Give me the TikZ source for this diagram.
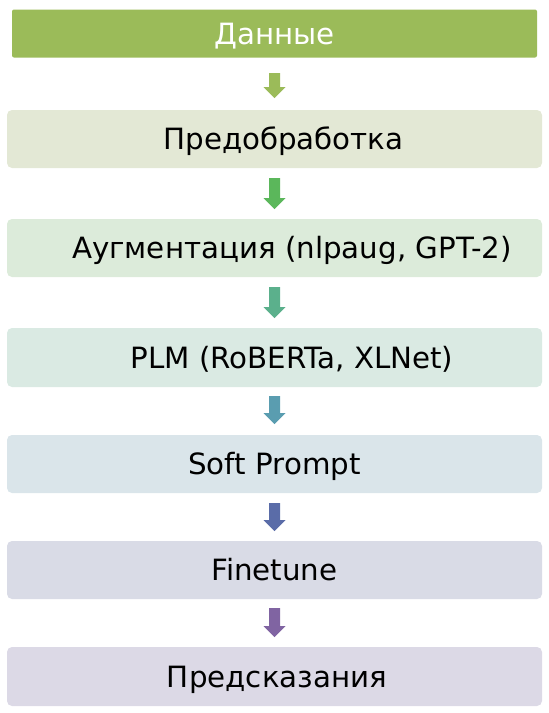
\documentclass[tikz,border=0pt]{standalone}
\usepackage{fontspec}
\setmainfont{DejaVu Sans}
\usetikzlibrary{calc}
\definecolor{c1}{HTML}{9BBB59}
\definecolor{f2}{HTML}{E3E8D5}
\definecolor{f3}{HTML}{DCEBDA}
\definecolor{f4}{HTML}{DAEAE3}
\definecolor{f5}{HTML}{DAE5EA}
\definecolor{f6}{HTML}{D9DBE6}
\definecolor{f7}{HTML}{DCD9E6}
\definecolor{a2}{HTML}{5BB75B}
\definecolor{a3}{HTML}{5BB08C}
\definecolor{a4}{HTML}{5A9DB0}
\definecolor{a5}{HTML}{5A6CA8}
\definecolor{a6}{HTML}{8064A2}
\tikzset{
  box/.style={rectangle, rounded corners=5pt, minimum width=535pt, inner sep=0pt,
    text height=21.4pt, text depth=0pt,
    font=\fontsize{29.3}{33}\selectfont, text=black},
  topbox/.style={rectangle, rounded corners=2pt, minimum width=525pt, minimum height=48pt,
    inner sep=0pt, text height=21.4pt, text depth=0pt,
    fill=c1, text=white, font=\fontsize{29.3}{33}\selectfont},
}
\newcommand{\blockarrow}[4]{% color, x, ytop, ytip
  \fill[#1] (#2-5.5,#3) -- (#2+5.5,#3) -- (#2+5.5,#4-11) -- (#2+11,#4-11) -- (#2,#4) -- (#2-11,#4-11) -- (#2-5.5,#4-11) -- cycle;}
\begin{document}
\begin{tikzpicture}[x=1pt,y=-1pt]
\useasboundingbox (0,0) rectangle (549,713);
\node[topbox] (n1) at (274.5,33.5) {Данные};
\node[box, fill=f2, minimum height=58pt] (n2) at (274.5,139) {\hspace*{18pt}Предобработка};
\node[box, fill=f3, minimum height=58pt] (n3) at (274.5,248) {\hspace*{35pt}Аугментация (nlpaug, GPT-2)};
\node[box, fill=f4, minimum height=59pt] (n4) at (274.5,357.5) {\hspace*{35pt}PLM (RoBERTa, XLNet)};
\node[box, fill=f5, minimum height=58pt] (n5) at (274.5,464) {Soft Prompt};
\node[box, fill=f6, minimum height=58pt] (n6) at (274.5,570) {Finetune};
\node[box, fill=f7, minimum height=59pt] (n7) at (274.5,676.5) {\hspace*{5pt}Предсказания};
\blockarrow{c1}{274.5}{73}{98}
\blockarrow{a2}{274.5}{178}{209}
\blockarrow{a3}{274.5}{287}{318}
\blockarrow{a4}{274.5}{396}{424}
\blockarrow{a5}{274.5}{503}{531}
\blockarrow{a6}{274.5}{608}{637}
\end{tikzpicture}
\end{document}
